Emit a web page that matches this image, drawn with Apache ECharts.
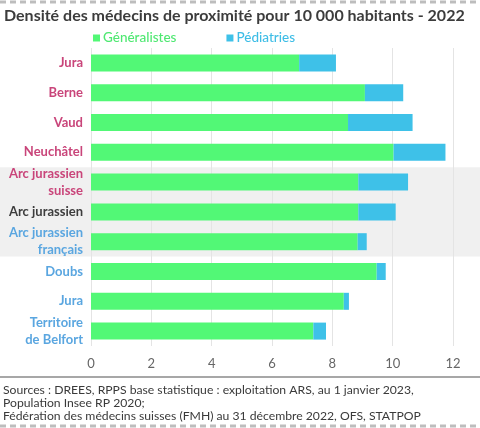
<!DOCTYPE html>
<html><head><meta charset="utf-8">
<script src="https://cdn.jsdelivr.net/npm/echarts@6/dist/echarts.min.js"></script>
<style>html,body{margin:0;padding:0;background:#fff}#c{width:480px;height:428px}</style>
</head><body><div id="c"></div>
<script>
var categories = ['Jura','Berne','Vaud','Neuchâtel','Arc jurassien\nsuisse','Arc jurassien','Arc jurassien\nfrançais','Doubs','Jura','Territoire\nde Belfort'];
var generalistes = [6.9, 9.08, 8.52, 10.03, 8.86, 8.86, 8.84, 9.47, 8.38, 7.37];
var pediatries = [1.22, 1.27, 2.14, 1.72, 1.65, 1.24, 0.3, 0.3, 0.17, 0.42];
var labelGroups = ['ch','ch','ch','ch','ch','all','fr','fr','fr','fr'];
var xTicks = [0,2,4,6,8,10,12];
var sources = ['Sources : DREES, RPPS base statistique : exploitation ARS, au 1 janvier 2023,','Population Insee RP 2020;','Fédération des médecins suisses (FMH) au 31 décembre 2022, OFS, STATPOP'];

var groupColor = {ch:'#c9457a', all:'#3d3d3d', fr:'#5aa6e0'};
var FONT = 'Lato';
var chart = echarts.init(document.getElementById('c'));
var option = {
  animation:false,
  textStyle:{fontFamily:FONT},
  title:{text:'Densité des médecins de proximité pour 10 000 habitants - 2022',left:-1,top:3,
    textStyle:{fontFamily:FONT,fontSize:16,fontWeight:'bold',color:'#3c3c3c'}},
  legend:{left:88,top:26,itemWidth:7,itemHeight:7,itemGap:50,icon:'rect',
    data:[{name:'Généralistes',textStyle:{color:'#4fe872'}},{name:'Pédiatries',textStyle:{color:'#3ebde6'}}],
    textStyle:{fontFamily:FONT,fontSize:13.5,fontWeight:500,padding:[0,0,0,-2]}},
  grid:{left:91,right:27,top:48,bottom:82,containLabel:false},
  xAxis:{type:'value',min:0,max:12,interval:2,
    axisLine:{show:false},axisTick:{show:false},
    splitLine:{show:true,lineStyle:{color:'#e4e4e4',width:1}},
    axisLabel:{color:'#666',fontSize:13,margin:11,fontFamily:FONT,
      formatter:function(v){return xTicks.indexOf(v)>=0?String(v):'';}}},
  yAxis:{type:'category',data:categories,inverse:true,
    axisLine:{show:false},axisTick:{show:false},
    axisLabel:{margin:8,fontSize:13,fontWeight:'bold',fontFamily:FONT,lineHeight:17,align:'right',
      color:function(v,i){return groupColor[labelGroups[i]];}}},
  series:[
    {name:'Généralistes',type:'bar',stack:'t',data:generalistes,barWidth:17,itemStyle:{color:'#52f876'}},
    {name:'Pédiatries',type:'bar',stack:'t',data:pediatries,barWidth:17,itemStyle:{color:'#3ec1e8'}}
  ]
};
chart.setOption(option);
var c1 = chart.convertToPixel({yAxisIndex:0}, 4);
var c2 = chart.convertToPixel({yAxisIndex:0}, 6);
var half = (c2-c1)/4;
var g = [
  {type:'rect',z:-10,silent:true,shape:{x:0,y:c1-half,width:480,height:(c2-c1)+2*half},style:{fill:'#f0f0f0'}},
  {type:'line',shape:{x1:0,y1:377,x2:480,y2:377},style:{stroke:'#8a8a8a',lineWidth:1.5}},
  {type:'line',shape:{x1:0,y1:2,x2:480,y2:2},style:{stroke:'#bdbdbd',lineWidth:3,lineDash:[6,4]}},
  {type:'line',shape:{x1:0,y1:426,x2:480,y2:426},style:{stroke:'#bdbdbd',lineWidth:3,lineDash:[6,4]}}
];
sources.forEach(function(s,i){
  g.push({type:'text',left:3,top:384+i*13.2,style:{text:s,fontFamily:FONT,fontSize:12.2,fill:'#3a3a3a'}});
});
chart.setOption({graphic:g});
</script></body></html>
